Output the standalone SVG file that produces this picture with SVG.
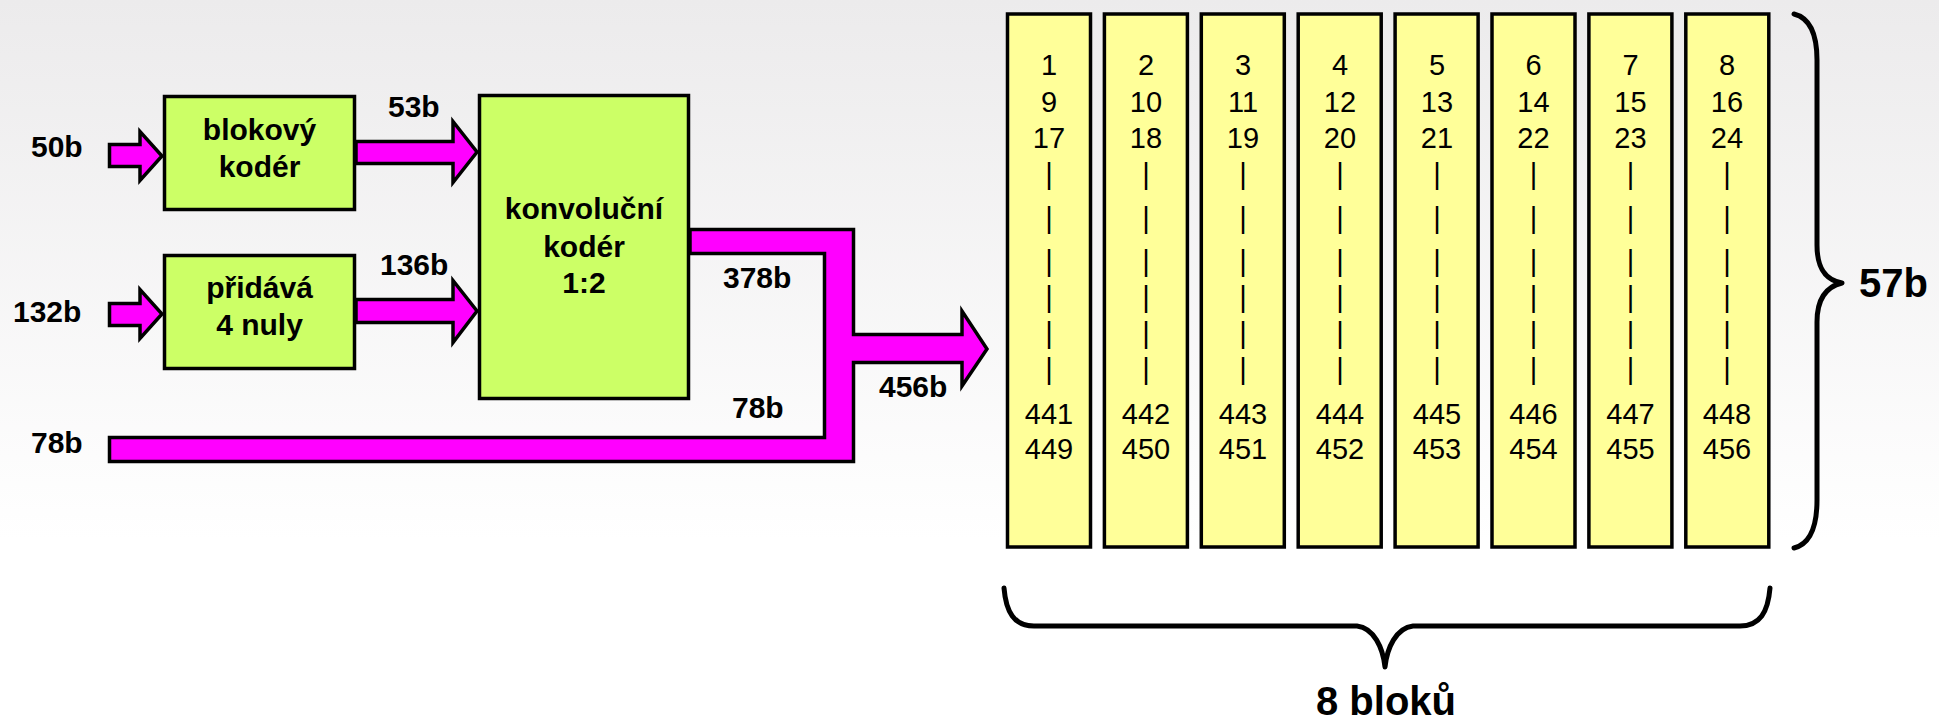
<svg xmlns="http://www.w3.org/2000/svg" width="1939" height="720" viewBox="0 0 1939 720">
<defs>
<linearGradient id="bg" x1="0" y1="0" x2="0" y2="1">
<stop offset="0" stop-color="#ECEBEC"/>
<stop offset="0.75" stop-color="#FFFFFF"/>
<stop offset="1" stop-color="#FFFFFF"/>
</linearGradient>
<style>
.box{fill:#CCFF66;stroke:#000;stroke-width:3.5}
.col{fill:#FFFF99;stroke:#000;stroke-width:3.5}
.pipe{fill:#FF00FF;stroke:#000;stroke-width:3.5;stroke-linejoin:miter}
.brace{fill:none;stroke:#000;stroke-width:5;stroke-linecap:round;stroke-linejoin:round}
.lbl{font-family:"Liberation Sans",Arial,sans-serif;font-weight:bold;font-size:30px;fill:#000}
.big{font-family:"Liberation Sans",Arial,sans-serif;font-weight:bold;font-size:40px;fill:#000}
.num{font-family:"Liberation Sans",Arial,sans-serif;font-size:29px;fill:#000;text-anchor:middle}
.mid{text-anchor:middle}
</style>
</defs>
<rect x="0" y="0" width="1939" height="720" fill="url(#bg)"/>

<g id="connectors">
<polygon class="pipe" points="109.5,144.5 140,144.5 140,131.5 162,156 140,180.5 140,166.5 109.5,166.5"/>
<polygon class="pipe" points="109.5,303.5 140,303.5 140,289.5 162,314 140,338.5 140,325.5 109.5,325.5"/>
<polygon class="pipe" points="356,141.5 453,141.5 453,121.5 477,152 453,182.5 453,163.5 356,163.5"/>
<polygon class="pipe" points="356,299.5 453,299.5 453,280.5 477,311 453,342.5 453,322.5 356,322.5"/>
<polygon class="pipe" points="690,229.5 853.5,229.5 853.5,334.5 962,334.5 962,311 987,349 962,386 962,362.5 853.5,362.5 853.5,461.5 109.5,461.5 109.5,437.5 824.5,437.5 824.5,253.5 690,253.5"/>
</g>

<g id="node-blokovy">
<rect class="box" x="164.5" y="96.5" width="190" height="113"/>
<text class="lbl mid" x="259.5" y="140">blokový</text>
<text class="lbl mid" x="259.5" y="177">kodér</text>
</g>
<g id="node-pridava">
<rect class="box" x="164.5" y="255.5" width="190" height="113"/>
<text class="lbl mid" x="259.5" y="298">přidává</text>
<text class="lbl mid" x="259.5" y="335">4 nuly</text>
</g>
<g id="node-konvolucni">
<rect class="box" x="479.5" y="95.5" width="209" height="303"/>
<text class="lbl mid" x="584" y="219">konvoluční</text>
<text class="lbl mid" x="584" y="257">kodér</text>
<text class="lbl mid" x="584" y="293">1:2</text>
</g>

<g id="labels">
<text class="lbl" x="31" y="157">50b</text>
<text class="lbl" x="13" y="322">132b</text>
<text class="lbl" x="31" y="453">78b</text>
<text class="lbl" x="388" y="117">53b</text>
<text class="lbl" x="380" y="275">136b</text>
<text class="lbl" x="723" y="288">378b</text>
<text class="lbl" x="732" y="418">78b</text>
<text class="lbl" x="879" y="397">456b</text>
</g>

<g id="col1"><rect class="col" x="1007.5" y="14" width="83" height="533"/>
<text class="num" x="1049"><tspan x="1049" y="75">1</tspan><tspan x="1049" y="112">9</tspan><tspan x="1049" y="148">17</tspan><tspan x="1049" y="183.5">|</tspan><tspan x="1049" y="227.5">|</tspan><tspan x="1049" y="270.5">|</tspan><tspan x="1049" y="306.5">|</tspan><tspan x="1049" y="342.5">|</tspan><tspan x="1049" y="378.5">|</tspan><tspan x="1049" y="424">441</tspan><tspan x="1049" y="459">449</tspan></text></g>
<g id="col2"><rect class="col" x="1104.4" y="14" width="83" height="533"/>
<text class="num" x="1146"><tspan x="1146" y="75">2</tspan><tspan x="1146" y="112">10</tspan><tspan x="1146" y="148">18</tspan><tspan x="1146" y="183.5">|</tspan><tspan x="1146" y="227.5">|</tspan><tspan x="1146" y="270.5">|</tspan><tspan x="1146" y="306.5">|</tspan><tspan x="1146" y="342.5">|</tspan><tspan x="1146" y="378.5">|</tspan><tspan x="1146" y="424">442</tspan><tspan x="1146" y="459">450</tspan></text></g>
<g id="col3"><rect class="col" x="1201.3" y="14" width="83" height="533"/>
<text class="num" x="1243"><tspan x="1243" y="75">3</tspan><tspan x="1243" y="112">11</tspan><tspan x="1243" y="148">19</tspan><tspan x="1243" y="183.5">|</tspan><tspan x="1243" y="227.5">|</tspan><tspan x="1243" y="270.5">|</tspan><tspan x="1243" y="306.5">|</tspan><tspan x="1243" y="342.5">|</tspan><tspan x="1243" y="378.5">|</tspan><tspan x="1243" y="424">443</tspan><tspan x="1243" y="459">451</tspan></text></g>
<g id="col4"><rect class="col" x="1298.2" y="14" width="83" height="533"/>
<text class="num" x="1340"><tspan x="1340" y="75">4</tspan><tspan x="1340" y="112">12</tspan><tspan x="1340" y="148">20</tspan><tspan x="1340" y="183.5">|</tspan><tspan x="1340" y="227.5">|</tspan><tspan x="1340" y="270.5">|</tspan><tspan x="1340" y="306.5">|</tspan><tspan x="1340" y="342.5">|</tspan><tspan x="1340" y="378.5">|</tspan><tspan x="1340" y="424">444</tspan><tspan x="1340" y="459">452</tspan></text></g>
<g id="col5"><rect class="col" x="1395.1" y="14" width="83" height="533"/>
<text class="num" x="1437"><tspan x="1437" y="75">5</tspan><tspan x="1437" y="112">13</tspan><tspan x="1437" y="148">21</tspan><tspan x="1437" y="183.5">|</tspan><tspan x="1437" y="227.5">|</tspan><tspan x="1437" y="270.5">|</tspan><tspan x="1437" y="306.5">|</tspan><tspan x="1437" y="342.5">|</tspan><tspan x="1437" y="378.5">|</tspan><tspan x="1437" y="424">445</tspan><tspan x="1437" y="459">453</tspan></text></g>
<g id="col6"><rect class="col" x="1492" y="14" width="83" height="533"/>
<text class="num" x="1533.5"><tspan x="1533.5" y="75">6</tspan><tspan x="1533.5" y="112">14</tspan><tspan x="1533.5" y="148">22</tspan><tspan x="1533.5" y="183.5">|</tspan><tspan x="1533.5" y="227.5">|</tspan><tspan x="1533.5" y="270.5">|</tspan><tspan x="1533.5" y="306.5">|</tspan><tspan x="1533.5" y="342.5">|</tspan><tspan x="1533.5" y="378.5">|</tspan><tspan x="1533.5" y="424">446</tspan><tspan x="1533.5" y="459">454</tspan></text></g>
<g id="col7"><rect class="col" x="1588.9" y="14" width="83" height="533"/>
<text class="num" x="1630.5"><tspan x="1630.5" y="75">7</tspan><tspan x="1630.5" y="112">15</tspan><tspan x="1630.5" y="148">23</tspan><tspan x="1630.5" y="183.5">|</tspan><tspan x="1630.5" y="227.5">|</tspan><tspan x="1630.5" y="270.5">|</tspan><tspan x="1630.5" y="306.5">|</tspan><tspan x="1630.5" y="342.5">|</tspan><tspan x="1630.5" y="378.5">|</tspan><tspan x="1630.5" y="424">447</tspan><tspan x="1630.5" y="459">455</tspan></text></g>
<g id="col8"><rect class="col" x="1685.8" y="14" width="83" height="533"/>
<text class="num" x="1727"><tspan x="1727" y="75">8</tspan><tspan x="1727" y="112">16</tspan><tspan x="1727" y="148">24</tspan><tspan x="1727" y="183.5">|</tspan><tspan x="1727" y="227.5">|</tspan><tspan x="1727" y="270.5">|</tspan><tspan x="1727" y="306.5">|</tspan><tspan x="1727" y="342.5">|</tspan><tspan x="1727" y="378.5">|</tspan><tspan x="1727" y="424">448</tspan><tspan x="1727" y="459">456</tspan></text></g>

<g id="brace-right">
<path class="brace" d="M1794,14 C1810,18 1817,35 1817,60 L1817,245 C1817,268 1825,280 1842,283 C1825,287 1817,300 1817,322 L1817,500 C1817,528 1810,544 1794,548"/>
<text class="big" x="1859" y="297">57b</text>
</g>
<g id="brace-bottom">
<path class="brace" d="M1004,588 C1006,612 1014,626 1034,626 L1357,626 C1374,628 1383,648 1385,667 C1387,648 1396,628 1413,626 L1740,626 C1760,626 1768,612 1770,588"/>
<text class="big mid" x="1386" y="715">8 bloků</text>
</g>
</svg>
